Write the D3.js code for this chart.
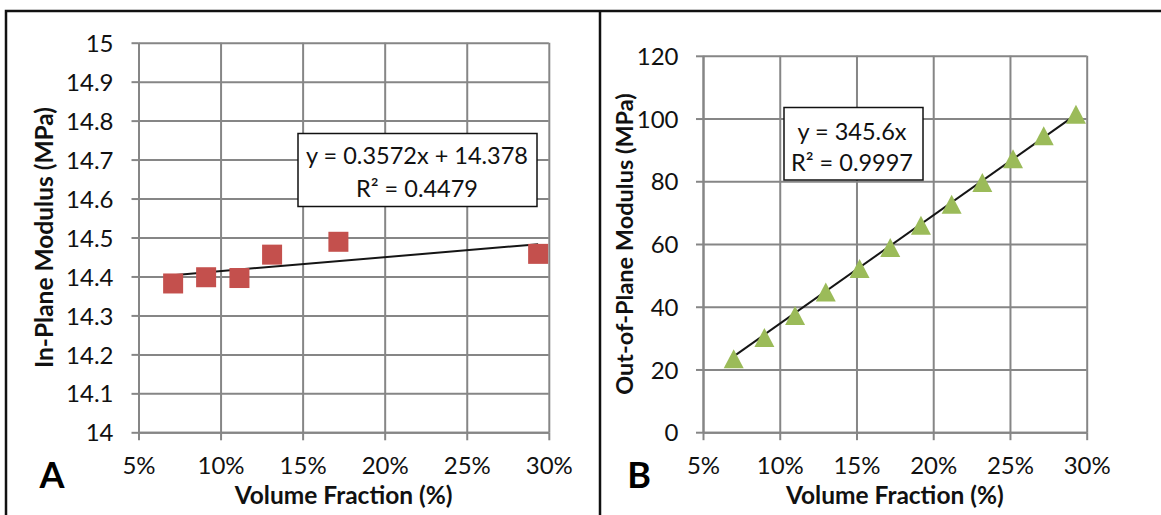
<!DOCTYPE html>
<html>
<head>
<meta charset="utf-8">
<script src="https://cdn.jsdelivr.net/npm/d3@7/dist/d3.min.js"></script>
<style>
  html, body { margin: 0; padding: 0; background: #fff; }
  svg { display: block; font-family: Lato, "Open Sans", sans-serif; }
</style>
</head>
<body>
<svg id="chart" width="1161" height="515"></svg>
<script>
// Tick values shared by both panels
const volumeTicks = [0.05, 0.10, 0.15, 0.20, 0.25, 0.30];
const inPlaneTicks = [14, 14.1, 14.2, 14.3, 14.4, 14.5, 14.6, 14.7, 14.8, 14.9, 15];
const outPlaneTicks = [0, 20, 40, 60, 80, 100, 120];

// Panel A: in-plane modulus vs volume fraction
const inPlaneFraction = [0.0711, 0.0912, 0.1115, 0.1314, 0.1718, 0.2935];
const inPlaneModulus = [14.382, 14.398, 14.396, 14.456, 14.489, 14.458];
const inPlaneFit = { slope: 0.3572, intercept: 14.378 };
const inPlaneFitText = ["y = 0.3572x + 14.378", "R² = 0.4479"];

// Panel B: out-of-plane modulus vs volume fraction
const outPlaneFraction = [0.070, 0.090, 0.110, 0.130, 0.152, 0.172, 0.192, 0.212, 0.232, 0.252, 0.272, 0.293];
const outPlaneModulus = [23.4, 30.2, 37.2, 44.7, 52.2, 58.9, 66.0, 72.7, 79.6, 87.2, 94.5, 101.4];
const outPlaneFit = { slope: 345.6, intercept: 0 };
const outPlaneFitText = ["y = 345.6x", "R² = 0.9997"];

const svg = d3.select("#chart");
const GRID = "#868686";
const TICK_FONT = 24, TITLE_FONT = 24.5, FIT_FONT = 23.5;

// Frame around the two panels
svg.append("path")
  .attr("d", "M6,515 V11 H1161")
  .attr("fill", "none").attr("stroke", "#111").attr("stroke-width", 2.5);
svg.append("line")
  .attr("x1", 600).attr("x2", 600).attr("y1", 11).attr("y2", 515)
  .attr("stroke", "#111").attr("stroke-width", 2.5);

function drawPanel(cfg) {
  const x = d3.scaleLinear().domain([0.05, 0.30]).range([cfg.left, cfg.right]);
  const y = d3.scaleLinear().domain(cfg.yDomain).range([cfg.bottom, cfg.top]);
  const g = svg.append("g");
  const w = cfg.right - cfg.left, h = cfg.bottom - cfg.top;

  // gridlines
  g.append("g").attr("transform", `translate(${cfg.left},0)`)
    .call(d3.axisLeft(y).tickValues(cfg.yTicks).tickSize(-w).tickFormat(""))
    .call(s => s.select(".domain").remove())
    .call(s => s.selectAll("line").attr("stroke", GRID).attr("stroke-width", 2));
  g.append("g").attr("transform", `translate(0,${cfg.bottom})`)
    .call(d3.axisBottom(x).tickValues(volumeTicks).tickSize(-h).tickFormat(""))
    .call(s => s.select(".domain").remove())
    .call(s => s.selectAll("line").attr("stroke", GRID).attr("stroke-width", 2));

  // y axis with outward ticks and labels
  g.append("g").attr("transform", `translate(${cfg.left},0)`)
    .call(d3.axisLeft(y).tickValues(cfg.yTicks).tickSize(7).tickSizeOuter(0)
      .tickPadding(cfg.yPad).tickFormat(d3.format("~g")))
    .call(s => s.select(".domain").attr("stroke", GRID).attr("stroke-width", 2))
    .call(s => s.selectAll("line").attr("stroke", GRID).attr("stroke-width", 2))
    .call(s => s.selectAll("text").attr("font-size", TICK_FONT).attr("fill", "#111")
      .attr("font-family", "Lato").attr("dy", "0.36em"));

  // x axis with outward ticks and labels
  g.append("g").attr("transform", `translate(0,${cfg.bottom})`)
    .call(d3.axisBottom(x).tickValues(volumeTicks).tickSize(8).tickSizeOuter(0)
      .tickFormat(d3.format(".0%")))
    .call(s => s.select(".domain").attr("stroke", GRID).attr("stroke-width", 2))
    .call(s => s.selectAll("line").attr("stroke", GRID).attr("stroke-width", 2))
    .call(s => s.selectAll("text").attr("font-size", TICK_FONT).attr("fill", "#111")
      .attr("font-family", "Lato").attr("y", 474 - cfg.bottom).attr("dy", 0));

  // trendline over the data range
  const xs = cfg.xData;
  const x0 = d3.min(xs), x1 = d3.max(xs);
  g.append("line")
    .attr("x1", x(x0)).attr("y1", y(cfg.fit.slope * x0 + cfg.fit.intercept))
    .attr("x2", x(x1)).attr("y2", y(cfg.fit.slope * x1 + cfg.fit.intercept))
    .attr("stroke", "#151515").attr("stroke-width", 2);

  // markers
  const pts = xs.map((v, i) => [v, cfg.yData[i]]);
  if (cfg.marker === "square") {
    g.append("g").selectAll("rect").data(pts).join("rect")
      .attr("x", d => x(d[0]) - 10).attr("y", d => y(d[1]) - 10)
      .attr("width", 20).attr("height", 20)
      .attr("fill", cfg.color);
  } else {
    g.append("g").selectAll("path").data(pts).join("path")
      .attr("d", d => {
        const cx = x(d[0]), cy = y(d[1]);
        return `M${cx},${cy - 9.5}L${cx + 10},${cy + 9.5}L${cx - 10},${cy + 9.5}Z`;
      })
      .attr("fill", cfg.color);
  }

  // trendline label box
  const b = cfg.box;
  g.append("rect").attr("x", b.x).attr("y", b.y).attr("width", b.w).attr("height", b.h)
    .attr("fill", "#fff").attr("stroke", "#111").attr("stroke-width", 1.5);
  g.selectAll(".fitlabel").data(cfg.fitText).join("text")
    .attr("x", b.cx).attr("y", (d, i) => b.base[i])
    .attr("text-anchor", "middle").attr("font-size", FIT_FONT).attr("fill", "#111")
    .text(d => d);

  // axis titles
  g.append("text")
    .attr("x", (cfg.left + cfg.right) / 2).attr("y", 504)
    .attr("text-anchor", "middle").attr("font-size", TITLE_FONT).attr("font-weight", 700)
    .attr("fill", "#111").text("Volume Fraction (%)");
  g.append("text")
    .attr("transform", `translate(${cfg.yTitleX},${(cfg.top + cfg.bottom) / 2}) rotate(-90)`)
    .attr("text-anchor", "middle").attr("font-size", cfg.yTitleFont).attr("font-weight", 700)
    .attr("fill", "#111").text(cfg.yTitle);

  // panel letter
  g.append("text")
    .attr("x", cfg.letterX).attr("y", 488)
    .attr("text-anchor", "middle").attr("font-size", 36).attr("font-weight", 700)
    .attr("fill", "#000").text(cfg.letter);
}

drawPanel({
  left: 138.5, right: 548.8, top: 42.7, bottom: 432.3,
  yDomain: [14, 15], yTicks: inPlaneTicks, yPad: 18,
  xData: inPlaneFraction, yData: inPlaneModulus, fit: inPlaneFit, fitText: inPlaneFitText,
  marker: "square", color: "#C4504D",
  box: { x: 298, y: 133.5, w: 239, h: 73, cx: 417, base: [164, 197] },
  yTitle: "In-Plane Modulus (MPa)", yTitleX: 53, yTitleFont: 24.5,
  letter: "A", letterX: 52
});

drawPanel({
  left: 703, right: 1086.7, top: 55.8, bottom: 432.2,
  yDomain: [0, 120], yTicks: outPlaneTicks, yPad: 17.5,
  xData: outPlaneFraction, yData: outPlaneModulus, fit: outPlaneFit, fitText: outPlaneFitText,
  marker: "triangle", color: "#9BBB59",
  box: { x: 784, y: 107.5, w: 139, h: 72.5, cx: 852, base: [140, 171] },
  yTitle: "Out-of-Plane Modulus (MPa)", yTitleX: 633, yTitleFont: 23.5,
  letter: "B", letterX: 639
});
</script>
</body>
</html>
